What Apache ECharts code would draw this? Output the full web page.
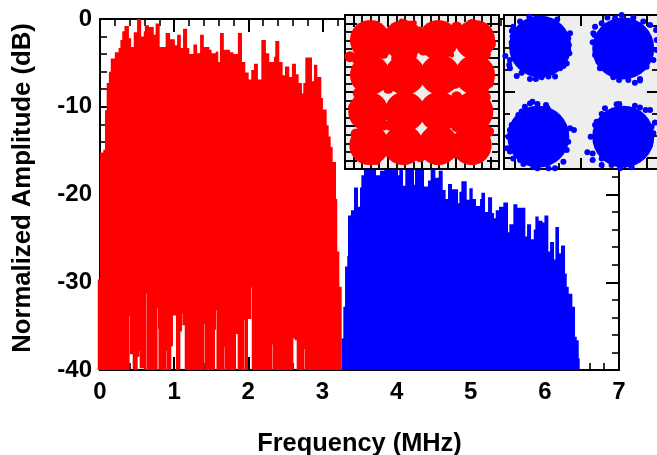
<!DOCTYPE html>
<html><head><meta charset="utf-8">
<style>html,body{margin:0;padding:0;background:#fff}#c{width:657px;height:455px}</style>
<script src="https://cdn.jsdelivr.net/npm/echarts@6/dist/echarts.min.js"></script>
</head><body><div id="c"></div>
<script>
const redFreq=[-0.03,0,.045,.067,.09,.12,.145,.2,.25,.275,.3,.33,.39,.42,.455,.5,.555,.59,.605,.66,.725,.75,.805,.885,.945,1.01,1.04,1.09,1.12,1.175,1.205,1.26,1.31,1.35,1.4,1.475,1.505,1.56,1.595,1.618,1.67,1.753,1.8,1.86,1.915,1.96,2.005,2.04,2.077,2.13,2.176,2.238,2.283,2.346,2.364,2.418,2.463,2.495,2.553,2.589,2.643,2.679,2.724,2.742,2.769,2.859,2.886,2.931,2.985,3.007,3.057,3.084,3.111,3.138,3.183,3.2,3.228];
const redPeak=[-29.7,-15.2,-14.9,-10.4,-7.3,-6,-4.5,-3.8,-3.3,-2.4,-1.4,-.8,-2.2,-3.2,-1.5,0,-2,-1.4,-.7,-.9,-1.8,-.5,-3.2,-1.6,-2.3,-3,-1.8,-3.3,-1.1,-3.3,-4,-2.9,-3.9,-1.8,-3.2,-3.5,-3.9,-3.7,-4.9,-1.6,-3.5,-3.8,-4,-1.6,-4.9,-6.1,-6.9,-5.8,-5.1,-6.9,-2.4,-3.9,-4.9,-4.3,-2.5,-4.9,-6.4,-5.4,-6.6,-5.1,-6.3,-7.3,-8.5,-7.3,-4.4,-7.1,-5.2,-6.6,-9,-10.3,-12.1,-13.4,-14.6,-16.3,-20.5,-26.5,-30.5];
const redEnd=3.26;
const redGapStart=[.396,.405,.508,.531,.54,.625,.77,.787,.895,.962,.985,1.084,1.106,1.111,1.407,1.551,1.57,1.677,1.835,1.947,1.996,2.04,2.324,2.608,2.626,2.756];
const redGapEnd=[.401,.441,.531,.535,.598,.63,.776,.793,.9,.985,1.025,1.106,1.111,1.143,1.413,1.565,1.576,1.682,1.857,1.952,2.04,2.047,2.33,2.626,2.653,2.762];
const redGapLow=[-33.8,-38.2,-38.5,-37.8,-39.8,-31.3,-33,-35.3,-37.8,-37.3,-33.8,-35.6,-33.6,-34.9,-34.8,-35.4,-33.2,-37.4,-35.9,-34.3,-34.2,-30.6,-37.1,-36.4,-36.6,-37.6];
const blueFreq=[3.26,3.282,3.305,3.335,3.345,3.385,3.426,3.48,3.507,3.525,3.56,3.723,3.777,3.835,4.02,4.037,4.087,4.118,4.235,4.249,4.37,4.424,4.46,4.523,4.568,4.622,4.662,4.694,4.748,4.829,4.847,4.874,4.946,4.982,5.027,5.072,5.126,5.144,5.193,5.234,5.288,5.315,5.337,5.382,5.44,5.503,5.521,5.575,5.629,5.737,5.76,5.814,5.85,5.872,5.917,5.967,5.994,6.047,6.07,6.124,6.142,6.191,6.218,6.272,6.295,6.322,6.371,6.407,6.43,6.457];
const bluePeak=[-36.4,-32.8,-28.2,-27,-22.4,-21.8,-19.2,-21.4,-19.2,-17.8,-16.5,-17.8,-17.3,-16.3,-17.8,-16.5,-19,-16.5,-18.9,-16.4,-19.1,-18.4,-16.6,-18.1,-17.3,-19.5,-20.5,-18.8,-19.4,-21,-19.7,-18.5,-20.6,-19.3,-20.5,-21.3,-20.5,-19.8,-22,-20.3,-22.1,-22.7,-21.8,-21.4,-20.9,-24.3,-23.4,-21.1,-21.5,-24.8,-23.4,-25.1,-24,-22.5,-23,-23.2,-22.4,-26.5,-25.4,-27.4,-23.7,-26.7,-25.8,-29,-30.5,-31.3,-32.8,-36.2,-36.6,-38.7];
const blueEnd=6.47;
const freqTicks=[0,1,2,3,4,5,6,7];
const dbTicks=[-40,-30,-20,-10,0];

const qam16Core=[[-6.08,6.08],[-2.18,6.08],[1.91,6.08],[6.2,6.08],[-6.08,1.99],[-1.99,1.99],[2.11,1.99],[6.2,1.99],[-6.28,-2.3],[-1.99,-2.3],[2.03,-2.3],[6,-2.3],[-6.16,-6.2],[-2.18,-6.2],[1.91,-6.2],[5.81,-6.2]];
const qam16Edge=[[-6.9,7.2],[-5.5,7.7],[-3.6,7],[-2.18,7.9],[-1.3,7.7],[-.3,7],[1.72,7.6],[3.5,7.2],[4.05,7.6],[5.81,7.9],[6.9,7],[7.7,6.1],[8,5.6],[7.4,4.4],[-7.6,6.3],[-7.5,5.1],[-8.42,4.13],[-7.5,2.6],[-7.5,1.1],[-7.25,-.8],[-8,-1.8],[-7.7,-2.9],[-7.1,-3.7],[-7.7,-4.9],[-7.6,-6.6],[-6.6,-7.5],[-5.4,-7.9],[-3.7,-7.1],[-2.18,-7.5],[-.7,-7],[1.72,-7.9],[2.9,-7.3],[3.8,-7.1],[6,-7.9],[6.9,-6.9],[7.4,-5.9],[7.76,-4.64],[7.6,2.2],[7.8,1.1],[7.4,-.6],[7.6,-2.5],[7.2,-3.6],
[-4.52,6.47],[-.23,6.86],[3.86,6.67],[-3.74,-3.86],[-4.52,-3.86],[-3.16,-4.25],[-5.11,.62],[-3.94,.43],[4.05,-4.05],[4.05,-3.27],[-1.21,4.33],[.16,4.91],[-4.52,4.52],[-2.96,3.94],[7.17,4.13],[7.17,.04],[7.17,-3.86],[3.86,1.01],[4.05,-.55],[-7.64,3.94],[-7.45,-.16],[-6.86,-4.05],[-.23,-7.56]];
const qam16Dots=[[3.47,4.33],[-8.42,4.13],[8.1,-4.5],[-2.4,8.3],[-.9,8.1]];
const qpskCore=[[-1.86,2.06],[1.92,1.98],[-1.94,-2.03],[1.92,-2.03]];
const qpskEdge=[[-2.35,3.42],[-1.08,3.3],[-2.77,3.2],[-3.08,2.97],[-3.14,2.77],[-3.11,2.52],[-3.15,2.24],[-.58,2.44],[-.55,2.14],[-.58,1.91],[-.53,1.76],[-.73,1.83],[-.65,1.3],[-3.44,1.64],[-3.23,1.45],[-3.26,1.23],[-3.23,1.08],[-2.92,.73],[-2.7,.88],[-2.32,.59],[-2.05,.59],[-1.79,.67],[-1.48,.7],[-1.18,.7],[-.8,1.18],[-.95,1.08],[-.5,2.67],[-1.64,3.27],[-2.02,3.35],
[1.85,3.5],[1.2,3.39],[.94,3.12],[.64,2.97],[.56,2.67],[.61,2.59],[.53,2.26],[.64,1.68],[.79,1.38],[.86,1.08],[1.47,.67],[1.73,.55],[2.15,.55],[2.45,.42],[2.68,.59],[2.68,.52],[2.98,1.15],[3.29,1.45],[3.44,1.91],[3.41,2.82],[3.14,3.05],[2.83,3.2],[2.38,3.39],[1.55,3.35],[3.44,2.36],
[-2.21,-.44],[-2.32,-.52],[-2.55,-.67],[-2.7,-.89],[-2.85,-1.05],[-1.98,-.55],[-1.59,-.59],[-1.52,-.74],[-3.15,-1.5],[-3.23,-1.73],[-3.3,-2.03],[-3.35,-2.56],[-3.23,-2.71],[-3.08,-3.02],[-2.62,-3.27],[-1.98,-3.47],[-1.48,-3.47],[-1.18,-3.47],[-.8,-3.17],[-.32,-1.73],[-.5,-1.65],[-.58,-2.26],[-.65,-2.64],[-2.77,-3.09],[-2.17,-3.39],
[1.62,-.56],[1.74,-.55],[2.45,-.62],[2.68,-.7],[2.94,-.82],[3.14,-.82],[3.36,-1.39],[3.21,-1.58],[.94,-1],[1.24,-1],[.71,-1.35],[.64,-1.5],[.44,-2.03],[.29,-2.74],[.53,-2.79],[.53,-3.09],[.94,-3.02],[.94,-3.32],[1.39,-3.32],[1.77,-3.47],[2.3,-3.42],[2.98,-2.71],[3.14,-2.41],[3.29,-1.88],[1.09,-.74]];
const qam16Major=[-8,-4,0,4,8];
const qam16Minor=[-9,-7,-6,-5,-3,-2,-1,1,2,3,5,6,7,9];
const qpskMajor=[-3,0,3];
const qpskMinor=[-2,-1,1,2];
const xTitle='Frequency (MHz)';
const yTitle='Normalized Amplitude (dB)';

const FONT='"Liberation Sans",Arial,sans-serif';
const BOTTOM=-40;
function outline(freq,peak,end,gs,ge,gl){
  const p=[[freq[0],BOTTOM]];
  freq.forEach((f,i)=>{p.push([f,peak[i]]);p.push([i+1<freq.length?freq[i+1]:end,peak[i]]);});
  p.push([end,BOTTOM]);
  for(let i=gs.length-1;i>=0;i--){p.push([ge[i],BOTTOM],[ge[i],gl[i]],[gs[i],gl[i]],[gs[i],BOTTOM]);}
  return p;
}
function polySeries(name,pts,color){
  return {name,type:'custom',xAxisIndex:0,yAxisIndex:0,z:2,clip:false,silent:true,
    data:pts,encode:{x:0,y:1},
    renderItem(params,api){
      if(params.dataIndex!==0)return null;
      return {type:'polygon',shape:{points:pts.map(q=>api.coord(q))},style:{fill:color}};
    }};
}
const black='#000';
const xAxes=[],yAxes=[];
const mainCommon={type:'value',splitLine:{show:false},axisLine:{onZero:false,lineStyle:{color:black,width:2}},
  axisTick:{inside:true,length:13,lineStyle:{color:black,width:2}},
  minorTick:{show:true,splitNumber:5,length:7,lineStyle:{color:black,width:1.6}}};
const lbl={color:black,fontFamily:FONT,fontWeight:'bold',fontSize:24};
xAxes.push({...mainCommon,gridIndex:0,position:'bottom',min:0,max:7,interval:1,
  axisLabel:{...lbl,margin:10,customValues:freqTicks},
  name:xTitle,nameLocation:'middle',nameGap:61,nameTextStyle:{...lbl,fontSize:25.4}});
xAxes.push({...mainCommon,gridIndex:0,position:'top',min:0,max:7,interval:1,axisLabel:{show:false}});
yAxes.push({...mainCommon,gridIndex:0,position:'left',min:-40,max:0,interval:10,
  axisLabel:{...lbl,margin:8,customValues:dbTicks}});
yAxes.push({...mainCommon,gridIndex:0,position:'right',min:-40,max:0,interval:10,axisLabel:{show:false}});

function insetAxes(g,range,major,minor,lenMaj,lenMin){
  const mk=(pos,vals,len,w)=>({type:'value',gridIndex:g,position:pos,min:-range,max:range,z:6,
    splitLine:{show:false},axisLabel:{show:false},
    axisLine:{onZero:false,lineStyle:{color:black,width:2}},
    axisTick:{inside:true,length:len,customValues:vals,lineStyle:{color:black,width:w}}});
  const idx=[xAxes.length,yAxes.length];
  [['bottom','left'],['top','right']].forEach(([a,b])=>{
    xAxes.push(mk(a,major,lenMaj,2));xAxes.push(mk(a,minor,lenMin,1.8));
    yAxes.push(mk(b,major,lenMaj,2));yAxes.push(mk(b,minor,lenMin,1.8));
  });
  return idx;
}
const grids=[
 {left:100,top:19,width:519,height:351,show:false,outerBoundsMode:'none'},
 {left:345,top:15,width:154,height:154,show:true,backgroundColor:'#eeeeee',borderWidth:0,z:5,outerBoundsMode:'none'},
 {left:504,top:15,width:154,height:154,show:true,backgroundColor:'#eeeeee',borderWidth:0,z:5,outerBoundsMode:'none'}
];
const ia=insetAxes(1,9,qam16Major,qam16Minor,12,7);
const ib=insetAxes(2,3.5,qpskMajor,qpskMinor,11,6);
function scat(name,data,idx,color,size){
  return {name,type:'scatter',xAxisIndex:idx[0],yAxisIndex:idx[1],data,symbol:'circle',symbolSize:size,z:7,clip:false,silent:true,
    itemStyle:{color,opacity:1,borderWidth:0}};
}
const chart=echarts.init(document.getElementById('c'),null,{renderer:'canvas'});
chart.setOption({animation:false,backgroundColor:'#fff',grid:grids,xAxis:xAxes,yAxis:yAxes,
 graphic:[{type:'text',x:23,y:188,rotation:Math.PI/2,silent:true,
   style:{text:yTitle,fill:black,font:'bold 25.7px '+FONT,textAlign:'center',textVerticalAlign:'middle'}}],
 series:[
  polySeries('QAM16 spectrum',outline(redFreq,redPeak,redEnd,redGapStart,redGapEnd,redGapLow),'#ff0000'),
  polySeries('QPSK spectrum',outline(blueFreq,bluePeak,blueEnd,[],[],[]),'#0000ff'),
  scat('QAM16 core',qam16Core,ia,'#ff0000',40),
  scat('QAM16 edge',qam16Edge,ia,'#ff0000',11),
  scat('QAM16 dots',qam16Dots,ia,'#ff0000',5),
  scat('QPSK core',qpskCore,ib,'#0000ff',62),
  scat('QPSK edge',qpskEdge,ib,'#0000ff',6)
 ]});
</script></body></html>
